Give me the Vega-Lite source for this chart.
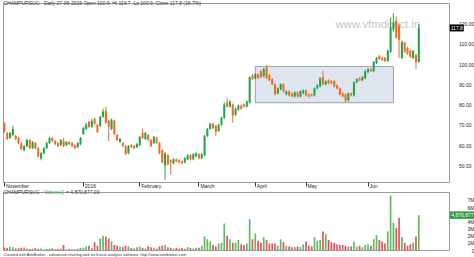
{
"$schema": "https://vega.github.io/schema/vega-lite/v6.json",
"background": "white",
"padding": {"left": 2, "top": 0, "right": 0, "bottom": 0},
"config": {
  "font": "Liberation Sans",
  "view": {"stroke": "#9c9c9c", "strokeWidth": 1},
  "axis": {"grid": false, "domain": false, "labelFont": "Liberation Sans", "labelFontSize": 5, "labelColor": "#222222", "tickColor": "#333333", "labelOverlap": false}
},
"spacing": 10,
"bounds": "flush",
"data": {"values": [
{"d":"2015-11-20","o":70.5,"h":71.5,"l":66,"c":67,"v":350000},
{"d":"2015-11-23","o":66,"h":66.5,"l":62.5,"c":63,"v":300000},
{"d":"2015-11-24","o":63.5,"h":66.5,"l":63,"c":66,"v":450000},
{"d":"2015-11-26","o":65,"h":69.5,"l":64.5,"c":68,"v":400000},
{"d":"2015-11-27","o":64.5,"h":65,"l":62.5,"c":63,"v":200000},
{"d":"2015-11-30","o":63.5,"h":64,"l":60.5,"c":61,"v":250000},
{"d":"2015-12-01","o":61,"h":61.5,"l":57.5,"c":58,"v":300000},
{"d":"2015-12-02","o":57.5,"h":60,"l":57,"c":59.5,"v":350000},
{"d":"2015-12-03","o":59.5,"h":63,"l":59,"c":62.5,"v":200000},
{"d":"2015-12-04","o":62.5,"h":63,"l":58,"c":58.5,"v":150000},
{"d":"2015-12-07","o":58.5,"h":62,"l":58,"c":61.5,"v":200000},
{"d":"2015-12-08","o":61,"h":61.5,"l":58,"c":58.5,"v":250000},
{"d":"2015-12-09","o":58.5,"h":59,"l":54,"c":54.5,"v":150000},
{"d":"2015-12-10","o":53.5,"h":56.5,"l":52.5,"c":56,"v":200000},
{"d":"2015-12-11","o":56,"h":59,"l":55.5,"c":58.5,"v":100000},
{"d":"2015-12-14","o":58.5,"h":61.5,"l":58,"c":61,"v":150000},
{"d":"2015-12-15","o":61,"h":64,"l":60.5,"c":63.5,"v":200000},
{"d":"2015-12-16","o":63.5,"h":64,"l":61.5,"c":62,"v":250000},
{"d":"2015-12-17","o":62,"h":62.5,"l":60,"c":60.5,"v":100000},
{"d":"2015-12-18","o":61,"h":61.5,"l":59,"c":59.5,"v":150000},
{"d":"2015-12-21","o":60,"h":63,"l":59.5,"c":62.5,"v":200000},
{"d":"2015-12-22","o":62,"h":63.5,"l":59,"c":59.5,"v":700000},
{"d":"2015-12-23","o":60,"h":62,"l":59.5,"c":61.5,"v":100000},
{"d":"2015-12-24","o":61.5,"h":62,"l":60,"c":60.5,"v":150000},
{"d":"2015-12-28","o":61,"h":61.5,"l":59,"c":59.5,"v":100000},
{"d":"2015-12-29","o":59.8,"h":60.5,"l":58,"c":58.5,"v":100000},
{"d":"2015-12-30","o":59,"h":61.5,"l":58.5,"c":61,"v":200000},
{"d":"2015-12-31","o":60.5,"h":64,"l":60,"c":63.5,"v":300000},
{"d":"2016-01-01","o":65.5,"h":69,"l":65,"c":68.5,"v":300000},
{"d":"2016-01-04","o":68,"h":71,"l":67.5,"c":70,"v":500000},
{"d":"2016-01-05","o":71.5,"h":72,"l":68.5,"c":69,"v":600000},
{"d":"2016-01-06","o":69,"h":73,"l":68.5,"c":72,"v":300000},
{"d":"2016-01-07","o":73,"h":73.5,"l":70,"c":70.5,"v":1100000},
{"d":"2016-01-08","o":70,"h":70.5,"l":66,"c":66.5,"v":600000},
{"d":"2016-01-11","o":69.5,"h":74.5,"l":69,"c":74,"v":1600000},
{"d":"2016-01-12","o":74,"h":78,"l":73.5,"c":76.5,"v":2000000},
{"d":"2016-01-13","o":77,"h":79,"l":70.5,"c":71,"v":1900000},
{"d":"2016-01-14","o":72,"h":72.5,"l":62,"c":69,"v":1600000},
{"d":"2016-01-15","o":68,"h":73,"l":67.5,"c":72.5,"v":1200000},
{"d":"2016-01-18","o":72,"h":72.5,"l":65,"c":65.5,"v":700000},
{"d":"2016-01-19","o":65,"h":65.5,"l":62,"c":62.5,"v":600000},
{"d":"2016-01-20","o":61.5,"h":63.5,"l":61,"c":63,"v":500000},
{"d":"2016-01-21","o":61,"h":61.5,"l":59,"c":59.5,"v":400000},
{"d":"2016-01-22","o":59.5,"h":60,"l":55,"c":55.5,"v":600000},
{"d":"2016-01-25","o":56,"h":60,"l":55.5,"c":59.5,"v":500000},
{"d":"2016-01-27","o":60,"h":60.5,"l":58.5,"c":59,"v":300000},
{"d":"2016-01-28","o":59.5,"h":60,"l":58,"c":58.5,"v":200000},
{"d":"2016-01-29","o":59,"h":61,"l":58.5,"c":60.5,"v":400000},
{"d":"2016-02-01","o":60,"h":64.5,"l":59.5,"c":64,"v":500000},
{"d":"2016-02-02","o":66,"h":68,"l":63,"c":63.5,"v":300000},
{"d":"2016-02-03","o":63,"h":66.5,"l":62.5,"c":66,"v":200000},
{"d":"2016-02-04","o":65,"h":65.5,"l":62,"c":62.5,"v":500000},
{"d":"2016-02-05","o":62.5,"h":63,"l":59,"c":59.5,"v":400000},
{"d":"2016-02-08","o":61,"h":64.5,"l":60.5,"c":64,"v":300000},
{"d":"2016-02-09","o":63.5,"h":64,"l":60.5,"c":61,"v":200000},
{"d":"2016-02-10","o":61,"h":61.5,"l":55.5,"c":56,"v":500000},
{"d":"2016-02-11","o":57.5,"h":58,"l":51,"c":51.5,"v":600000},
{"d":"2016-02-12","o":50,"h":56.5,"l":43,"c":56,"v":700000},
{"d":"2016-02-15","o":55,"h":55.5,"l":50,"c":50.5,"v":400000},
{"d":"2016-02-16","o":52.5,"h":53,"l":45.5,"c":51.5,"v":300000},
{"d":"2016-02-17","o":51,"h":53.5,"l":50.5,"c":53,"v":200000},
{"d":"2016-02-18","o":53,"h":53.5,"l":51.5,"c":52,"v":300000},
{"d":"2016-02-19","o":52.5,"h":53,"l":51,"c":51.5,"v":200000},
{"d":"2016-02-22","o":52,"h":52.5,"l":50.5,"c":51,"v":300000},
{"d":"2016-02-23","o":51.5,"h":54,"l":51,"c":53.5,"v":200000},
{"d":"2016-02-24","o":53,"h":55.5,"l":52.5,"c":55,"v":400000},
{"d":"2016-02-25","o":55,"h":55.5,"l":52.5,"c":53,"v":300000},
{"d":"2016-02-26","o":53,"h":56,"l":52.5,"c":55.5,"v":200000},
{"d":"2016-02-29","o":54.5,"h":56.5,"l":54,"c":56,"v":300000},
{"d":"2016-03-01","o":55.5,"h":56,"l":53,"c":53.5,"v":300000},
{"d":"2016-03-02","o":53.5,"h":56,"l":53,"c":55.5,"v":600000},
{"d":"2016-03-03","o":55,"h":65,"l":54.5,"c":64.5,"v":1900000},
{"d":"2016-03-04","o":64.5,"h":68.5,"l":64,"c":68,"v":1500000},
{"d":"2016-03-08","o":68,"h":71,"l":67.5,"c":70.5,"v":1200000},
{"d":"2016-03-09","o":70.5,"h":71,"l":68,"c":68.5,"v":700000},
{"d":"2016-03-10","o":69.5,"h":70,"l":64.5,"c":66.5,"v":500000},
{"d":"2016-03-11","o":67,"h":70.5,"l":66.5,"c":70,"v":900000},
{"d":"2016-03-14","o":70,"h":74,"l":69.5,"c":73.5,"v":1000000},
{"d":"2016-03-15","o":73.5,"h":81,"l":73,"c":80,"v":3700000},
{"d":"2016-03-16","o":81,"h":83,"l":78.5,"c":79,"v":2000000},
{"d":"2016-03-17","o":79,"h":82,"l":78.5,"c":81.5,"v":1500000},
{"d":"2016-03-18","o":80,"h":80.5,"l":71,"c":74.5,"v":1000000},
{"d":"2016-03-21","o":75,"h":78.5,"l":74.5,"c":78,"v":1000000},
{"d":"2016-03-22","o":77.5,"h":80,"l":77,"c":79.5,"v":1400000},
{"d":"2016-03-23","o":79.5,"h":80,"l":77.5,"c":78,"v":800000},
{"d":"2016-03-28","o":80,"h":80.5,"l":78.5,"c":79,"v":700000},
{"d":"2016-03-29","o":79,"h":82,"l":78.5,"c":81.5,"v":900000},
{"d":"2016-03-30","o":81,"h":94,"l":80.5,"c":93.5,"v":4300000},
{"d":"2016-03-31","o":94.5,"h":95,"l":92,"c":92.5,"v":1500000},
{"d":"2016-04-01","o":93,"h":95.5,"l":92.5,"c":95,"v":2300000},
{"d":"2016-04-04","o":95,"h":95.5,"l":92.5,"c":93,"v":1300000},
{"d":"2016-04-05","o":96.5,"h":97,"l":93,"c":93.5,"v":1000000},
{"d":"2016-04-06","o":94,"h":98,"l":93.5,"c":97.5,"v":1800000},
{"d":"2016-04-07","o":98.5,"h":99.5,"l":92.5,"c":93,"v":1400000},
{"d":"2016-04-08","o":94.5,"h":95,"l":91.5,"c":92,"v":900000},
{"d":"2016-04-11","o":92.5,"h":93,"l":89.5,"c":90,"v":900000},
{"d":"2016-04-12","o":90,"h":90.5,"l":84.5,"c":85,"v":900000},
{"d":"2016-04-13","o":85.5,"h":88.5,"l":85,"c":88,"v":600000},
{"d":"2016-04-18","o":87.5,"h":90.5,"l":87,"c":90,"v":1500000},
{"d":"2016-04-20","o":90,"h":90.5,"l":86,"c":86.5,"v":1100000},
{"d":"2016-04-21","o":85,"h":87,"l":84.5,"c":86.5,"v":600000},
{"d":"2016-04-22","o":86.5,"h":87,"l":84,"c":84.5,"v":500000},
{"d":"2016-04-25","o":85.5,"h":86,"l":83.5,"c":84,"v":400000},
{"d":"2016-04-26","o":84,"h":86.5,"l":83.5,"c":86,"v":400000},
{"d":"2016-04-27","o":86,"h":86.5,"l":83.5,"c":84,"v":500000},
{"d":"2016-04-28","o":84,"h":87,"l":83.5,"c":86.5,"v":400000},
{"d":"2016-04-29","o":85.5,"h":87.5,"l":85,"c":87,"v":800000},
{"d":"2016-05-02","o":87,"h":87.5,"l":84,"c":84.5,"v":1200000},
{"d":"2016-05-03","o":85,"h":85.5,"l":83.5,"c":84,"v":600000},
{"d":"2016-05-04","o":85,"h":85.5,"l":84,"c":84.5,"v":500000},
{"d":"2016-05-05","o":84.5,"h":88.5,"l":84,"c":88,"v":1800000},
{"d":"2016-05-06","o":88,"h":90,"l":87.5,"c":89.5,"v":1300000},
{"d":"2016-05-09","o":89,"h":93.5,"l":88.5,"c":93,"v":1400000},
{"d":"2016-05-10","o":93.5,"h":96.5,"l":89.5,"c":90,"v":2600000},
{"d":"2016-05-11","o":90,"h":92,"l":89.5,"c":91.5,"v":2200000},
{"d":"2016-05-12","o":92,"h":92.5,"l":90,"c":90.5,"v":1400000},
{"d":"2016-05-13","o":91.5,"h":92,"l":90,"c":90.5,"v":1100000},
{"d":"2016-05-16","o":91.5,"h":92,"l":88.5,"c":89,"v":1000000},
{"d":"2016-05-17","o":89.5,"h":90,"l":87.5,"c":88,"v":800000},
{"d":"2016-05-18","o":88,"h":88.5,"l":84.5,"c":85,"v":700000},
{"d":"2016-05-19","o":85.5,"h":86,"l":83.5,"c":84,"v":700000},
{"d":"2016-05-20","o":85,"h":85.5,"l":81,"c":82,"v":600000},
{"d":"2016-05-23","o":82,"h":86,"l":81.5,"c":85.5,"v":500000},
{"d":"2016-05-24","o":85.5,"h":86,"l":84,"c":84.5,"v":500000},
{"d":"2016-05-25","o":84.5,"h":91.5,"l":84,"c":91,"v":1200000},
{"d":"2016-05-26","o":91,"h":93,"l":90.5,"c":92.5,"v":500000},
{"d":"2016-05-27","o":93,"h":93.5,"l":91.5,"c":92,"v":600000},
{"d":"2016-05-30","o":92,"h":94,"l":91.5,"c":93.5,"v":400000},
{"d":"2016-05-31","o":93,"h":97,"l":92.5,"c":96.5,"v":700000},
{"d":"2016-06-01","o":96,"h":98,"l":95.5,"c":97.5,"v":800000},
{"d":"2016-06-02","o":97.5,"h":98,"l":96,"c":96.5,"v":600000},
{"d":"2016-06-03","o":96.5,"h":101.5,"l":96,"c":101,"v":1500000},
{"d":"2016-06-06","o":100.5,"h":103.5,"l":100,"c":103,"v":2100000},
{"d":"2016-06-07","o":104,"h":104.5,"l":102,"c":102.5,"v":1400000},
{"d":"2016-06-08","o":103,"h":103.5,"l":101.5,"c":102,"v":1200000},
{"d":"2016-06-09","o":103,"h":103.5,"l":101,"c":101.5,"v":900000},
{"d":"2016-06-10","o":101.5,"h":107,"l":101,"c":106.5,"v":2600000},
{"d":"2016-06-13","o":106,"h":123,"l":105.5,"c":118,"v":7600000},
{"d":"2016-06-14","o":117,"h":125,"l":116,"c":120.5,"v":3800000},
{"d":"2016-06-15","o":121.5,"h":123.5,"l":112.5,"c":113,"v":3100000},
{"d":"2016-06-16","o":119,"h":120,"l":103,"c":112,"v":4500000},
{"d":"2016-06-17","o":103,"h":111.5,"l":102.5,"c":111,"v":1800000},
{"d":"2016-06-20","o":110.5,"h":111,"l":105.5,"c":106,"v":1000000},
{"d":"2016-06-21","o":108,"h":108.5,"l":104.5,"c":105,"v":600000},
{"d":"2016-06-22","o":106.5,"h":107,"l":103,"c":103.5,"v":800000},
{"d":"2016-06-23","o":103,"h":107,"l":102.5,"c":106.5,"v":1000000},
{"d":"2016-06-24","o":104.5,"h":105,"l":97.5,"c":101,"v":1900000},
{"d":"2016-06-27","o":100.9,"h":119.7,"l":100.9,"c":117.8,"v":4870877}
]},
"vconcat": [
{
  "width": 446,
  "height": 179,
  "layer": [
    {
      "mark": {"type": "rule", "strokeWidth": 1},
      "encoding": {
        "x": {"field": "d", "type": "ordinal",
          "scale": {"paddingInner": 0, "paddingOuter": 0, "range": [0, 417.2]},
          "axis": {"values": ["2015-11-20","2016-01-01","2016-02-01","2016-03-01","2016-04-01","2016-05-02","2016-06-01"],
            "labelExpr": "datum.value == '2015-11-20' ? 'November' : datum.value == '2016-01-01' ? '2016' : datum.value == '2016-06-01' ? 'Jun' : utcFormat(toDate(datum.value), '%B')",
            "labelAlign": "left", "labelBaseline": "top", "labelPadding": -3, "labelOffset": 1.5,
            "tickSize": 4, "labelAngle": 0, "labelFlush": false, "labelOverlap": false, "title": null}},
        "y": {"field": "l", "type": "quantitative",
          "scale": {"domain": [41.8, 130.1], "nice": false, "zero": false},
          "axis": {"orient": "right", "values": [50,60,70,80,90,100,110,120], "tickCount": 20, "format": ".2f", "labelAlign": "left", "labelBaseline": "middle", "labelPadding": 9.5, "ticks": false, "labelOverlap": false, "labelBound": false, "labelFlush": false, "title": null, "zindex": 1}},
        "y2": {"field": "h"},
        "opacity": {"value": 0}
      }
    },
    {
      "data": {"values": [{"s": "2016-04-01", "e": "2016-06-14", "lo": 80.9, "hi": 98.8}]},
      "mark": {"type": "rect", "fill": "#dfe5ee", "stroke": "#98a3b3", "strokeWidth": 1},
      "encoding": {
        "x": {"field": "s", "type": "ordinal"},
        "x2": {"field": "e"},
        "y": {"field": "lo", "type": "quantitative"},
        "y2": {"field": "hi"}
      }
    },
    {
      "data": {"values": [{"t": "www.vfmdirect.in"}]},
      "mark": {"type": "text", "fontSize": 11.3, "color": "#c4c4c4", "align": "center", "baseline": "middle", "dx": -1.5},
      "encoding": {
        "x": {"datum": "2016-06-07", "type": "ordinal"},
        "y": {"datum": 119.2, "type": "quantitative"},
        "text": {"field": "t"}
      }
    },
    {
      "mark": {"type": "rule", "strokeWidth": 1},
      "encoding": {
        "x": {"field": "d", "type": "ordinal"},
        "y": {"field": "l", "type": "quantitative"},
        "y2": {"field": "h"},
        "color": {"condition": {"test": "datum.c >= datum.o", "value": "#22a446"}, "value": "#f26a24"}
      }
    },
    {
      "mark": {"type": "bar", "width": {"band": 0.72}},
      "encoding": {
        "x": {"field": "d", "type": "ordinal"},
        "y": {"field": "o", "type": "quantitative"},
        "y2": {"field": "c"},
        "color": {"condition": {"test": "datum.c >= datum.o", "value": "#22a446"}, "value": "#f26a24"}
      }
    },
    {
      "data": {"values": [{"t": "CHAMPURSUG - Daily 27-06-2016 Open 100.9, Hi 119.7, Lo 100.9, Close 117.8 (16.7%)"}]},
      "mark": {"type": "text", "align": "left", "baseline": "middle", "fontSize": 5, "color": "#333333", "dx": -1},
      "encoding": {
        "x": {"datum": "2015-11-20", "type": "ordinal"},
        "y": {"datum": 130.1, "type": "quantitative"},
        "text": {"field": "t"}
      }
    },
    {
      "transform": [{"filter": "datum.d == '2016-06-27'"}],
      "layer": [
        {
          "mark": {"type": "point", "shape": "M-1,-0.5L1,-0.5L1,0.5L-1,0.5Z", "filled": true, "color": "#000000", "opacity": 1, "size": 196, "xOffset": 38},
          "encoding": {"x": {"field": "d", "type": "ordinal"}, "y": {"field": "c", "type": "quantitative"}}
        },
        {
          "mark": {"type": "text", "color": "#ffffff", "fontSize": 5, "xOffset": 38, "align": "center", "baseline": "middle"},
          "encoding": {"x": {"field": "d", "type": "ordinal"}, "y": {"field": "c", "type": "quantitative"}, "text": {"field": "c", "type": "quantitative", "format": ".1f"}}
        }
      ]
    }
  ]
},
{
  "width": 446,
  "height": 58,
  "layer": [
    {
      "mark": {"type": "bar", "width": {"band": 0.6}},
      "encoding": {
        "x": {"field": "d", "type": "ordinal",
          "scale": {"paddingInner": 0, "paddingOuter": 0, "range": [0, 417.2]},
          "axis": {"labels": false, "ticks": false, "domain": false,
            "title": "Created with AmiBroker - advanced charting and technical analysis software. http://www.amibroker.com",
            "titleAnchor": "start", "titleFontSize": 4, "titleFontWeight": "normal", "titleColor": "#333333", "titlePadding": 2, "titleFont": "Liberation Sans"}},
        "y": {"field": "v", "type": "quantitative",
          "scale": {"domain": [0, 8100000], "nice": false},
          "axis": {"orient": "right", "values": [0,1000000,2000000,3000000,4000000,6000000,7000000], "tickCount": 20,
            "labelExpr": "datum.value == 0 ? '0' : (datum.value/1000000) + 'M'",
            "labelAlign": "right", "labelBaseline": "middle", "labelPadding": 25, "ticks": false, "labelOverlap": false, "labelBound": false, "labelFlush": false, "title": null, "zindex": 1}},
        "color": {"condition": {"test": "datum.c >= datum.o", "value": "#5cbd5e"}, "value": "#e8505f"}
      }
    },
    {
      "data": {"values": [{"t": "CHAMPURSUG -"}]},
      "mark": {"type": "text", "align": "left", "baseline": "middle", "fontSize": 5, "color": "#333333", "dx": -1},
      "encoding": {"x": {"datum": "2015-11-20", "type": "ordinal"}, "y": {"datum": 8100000, "type": "quantitative"}, "text": {"field": "t"}}
    },
    {
      "data": {"values": [{"t": "Volume()"}]},
      "mark": {"type": "text", "align": "left", "baseline": "middle", "fontSize": 5, "color": "#2e9e3e", "dx": 39.5},
      "encoding": {"x": {"datum": "2015-11-20", "type": "ordinal"}, "y": {"datum": 8100000, "type": "quantitative"}, "text": {"field": "t"}}
    },
    {
      "data": {"values": [{"t": "= 4,870,877.00"}]},
      "mark": {"type": "text", "align": "left", "baseline": "middle", "fontSize": 5, "color": "#333333", "dx": 61.5},
      "encoding": {"x": {"datum": "2015-11-20", "type": "ordinal"}, "y": {"datum": 8100000, "type": "quantitative"}, "text": {"field": "t"}}
    },
    {
      "transform": [{"filter": "datum.d == '2016-06-27'"}],
      "layer": [
        {
          "mark": {"type": "point", "shape": "M-1,-0.25L1,-0.25L1,0.25L-1,0.25Z", "filled": true, "color": "#2e9e3e", "opacity": 1, "size": 900, "xOffset": 46},
          "encoding": {"x": {"field": "d", "type": "ordinal"}, "y": {"field": "v", "type": "quantitative"}}
        },
        {
          "mark": {"type": "text", "color": "#ffffff", "fontSize": 5, "xOffset": 32.5, "align": "left", "baseline": "middle"},
          "encoding": {"x": {"field": "d", "type": "ordinal"}, "y": {"field": "v", "type": "quantitative"}, "text": {"field": "v", "type": "quantitative", "format": ",.0f"}}
        }
      ]
    }
  ]
}
]
}
